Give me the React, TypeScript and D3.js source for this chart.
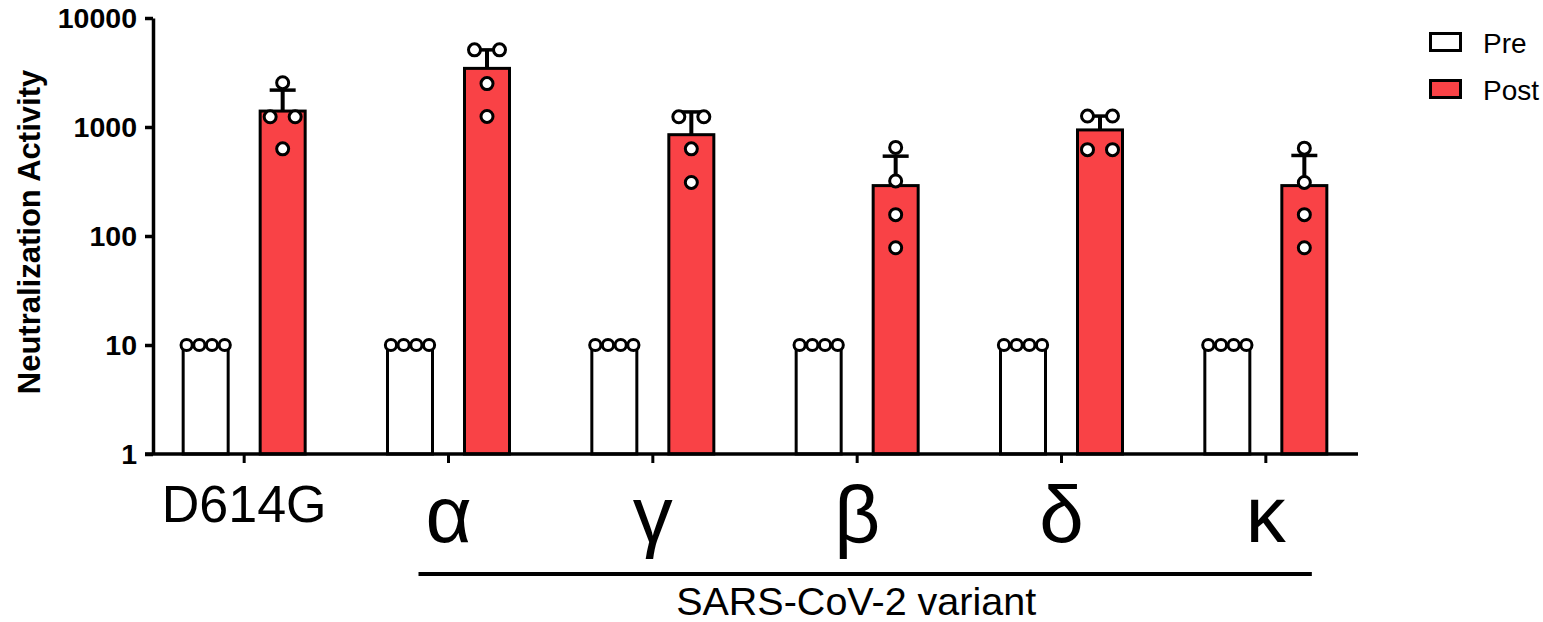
import * as d3 from 'd3';
import { useEffect, useRef } from 'react';

const categories = ['D614G', 'α', 'γ', 'β', 'δ', 'κ'];
const series = ['Pre', 'Post'];
const preMean = [10, 10, 10, 10, 10, 10];
const preSd = [0, 0, 0, 0, 0, 0];
const prePoints = [
  [10, 10, 10, 10],
  [10, 10, 10, 10],
  [10, 10, 10, 10],
  [10, 10, 10, 10],
  [10, 10, 10, 10],
  [10, 10, 10, 10],
];
const postMean = [1400, 3450, 850, 290, 940, 290];
const postSd = [780, 1650, 525, 250, 320, 258];
const postPoints = [
  [2550, 1240, 1240, 630],
  [5100, 5100, 2500, 1250],
  [1240, 1240, 630, 310],
  [650, 320, 157, 78],
  [1260, 1260, 620, 620],
  [640, 310, 157, 78],
];
const yTicks = [1, 10, 100, 1000, 10000];
const yTitle = 'Neutralization Activity';
const xTitle = 'SARS-CoV-2 variant';

const font = "'Liberation Sans', Arial, Helvetica, sans-serif";
const fills: Record<string, string> = { Pre: '#ffffff', Post: '#f94246' };

const W = 1543;
const H = 622;
const axisX = 153;
const baseY = 454;
const topY = 18;

// spread replicates that share a value side by side, like a column scatter
const spread = (vals: number[], gap: number) => {
  const counts = d3.rollup(vals, (v) => v.length, (d) => d);
  const seen = new Map<number, number>();
  return vals.map((v) => {
    const n = counts.get(v)!;
    const k = seen.get(v) ?? 0;
    seen.set(v, k + 1);
    return { v, dx: (k - (n - 1) / 2) * gap };
  });
};

export default function App() {
  const ref = useRef<SVGSVGElement>(null);

  useEffect(() => {
    const svg = d3.select(ref.current);
    svg.selectAll('*').remove();

    const rows = categories.flatMap((cat, i) => [
      { cat, s: 'Pre', mean: preMean[i], sd: preSd[i], pts: prePoints[i] },
      { cat, s: 'Post', mean: postMean[i], sd: postSd[i], pts: postPoints[i] },
    ]);

    const x = d3.scaleBand().domain(categories).range([142, 1368]);
    const inner = d3
      .scaleBand()
      .domain(series)
      .range([x.bandwidth() / 2 - 61, x.bandwidth() / 2 + 61])
      .paddingInner(32 / 77);
    const y = d3.scaleLog().domain([1, 10000]).range([baseY, topY]);
    const bw = inner.bandwidth();

    const g = svg.append('g');

    // bars
    g.selectAll('.bar')
      .data(rows)
      .enter()
      .append('rect')
      .attr('x', (d) => x(d.cat)! + inner(d.s)!)
      .attr('y', (d) => y(d.mean))
      .attr('width', bw)
      .attr('height', (d) => y(1) - y(d.mean))
      .attr('fill', (d) => fills[d.s])
      .attr('stroke', '#000')
      .attr('stroke-width', 3);

    // upper error bars
    const err = g
      .selectAll('.err')
      .data(rows.filter((d) => d.sd > 0))
      .enter()
      .append('g');
    err
      .append('line')
      .attr('x1', (d) => x(d.cat)! + inner(d.s)! + bw / 2)
      .attr('x2', (d) => x(d.cat)! + inner(d.s)! + bw / 2)
      .attr('y1', (d) => y(d.mean))
      .attr('y2', (d) => y(d.mean + d.sd))
      .attr('stroke', '#000')
      .attr('stroke-width', 4);
    err
      .append('line')
      .attr('x1', (d) => x(d.cat)! + inner(d.s)! + bw / 2 - 13)
      .attr('x2', (d) => x(d.cat)! + inner(d.s)! + bw / 2 + 13)
      .attr('y1', (d) => y(d.mean + d.sd))
      .attr('y2', (d) => y(d.mean + d.sd))
      .attr('stroke', '#000')
      .attr('stroke-width', 3.5);

    // replicate points
    rows.forEach((d) => {
      const cx = x(d.cat)! + inner(d.s)! + bw / 2;
      const gap = d.s === 'Pre' ? 12.7 : 25;
      g.selectAll(null)
        .data(spread(d.pts, gap))
        .enter()
        .append('circle')
        .attr('cx', (p) => cx + p.dx)
        .attr('cy', (p) => y(p.v))
        .attr('r', d.s === 'Pre' ? 5.6 : 6)
        .attr('fill', '#fff')
        .attr('stroke', '#000')
        .attr('stroke-width', 3);
    });

    // y axis
    const ya = svg
      .append('g')
      .attr('transform', `translate(${axisX},0)`)
      .call(
        d3
          .axisLeft(y)
          .tickValues(yTicks)
          .tickFormat(d3.format('d'))
          .tickSize(8)
          .tickSizeOuter(0)
          .tickPadding(8)
      );
    ya.select('.domain').attr('stroke-width', 3.5);
    ya.selectAll('.tick line').attr('stroke-width', 3.5);
    ya.selectAll('.tick text')
      .attr('font-family', font)
      .attr('font-weight', 'bold')
      .attr('font-size', 28.5)
      .attr('fill', '#000');

    // x axis
    svg
      .append('line')
      .attr('x1', 145)
      .attr('x2', 1358)
      .attr('y1', baseY)
      .attr('y2', baseY)
      .attr('stroke', '#000')
      .attr('stroke-width', 3.5);
    const xt = svg
      .selectAll('.xt')
      .data(categories)
      .enter()
      .append('g')
      .attr('transform', (d) => `translate(${x(d)! + x.bandwidth() / 2},${baseY})`);
    xt.append('line').attr('y1', 0).attr('y2', 9).attr('stroke', '#000').attr('stroke-width', 3);
    xt.append('text')
      .attr('text-anchor', 'middle')
      .attr('font-family', font)
      .attr('font-size', (d) => (/[\u0370-\u03ff]/.test(d) ? 80 : 52))
      .attr('y', (d) => (/[\u0370-\u03ff]/.test(d) ? 88 : 68))
      .text((d) => d);

    // bracket under the variants
    const variants = categories.slice(1);
    const bx0 = x(variants[0])! + x.bandwidth() / 2 - 30;
    const bx1 = x(variants[variants.length - 1])! + x.bandwidth() / 2 + 46;
    svg
      .append('line')
      .attr('x1', bx0)
      .attr('x2', bx1)
      .attr('y1', 574)
      .attr('y2', 574)
      .attr('stroke', '#000')
      .attr('stroke-width', 4);
    svg
      .append('text')
      .attr('x', (bx0 + bx1) / 2 - 9)
      .attr('y', 615)
      .attr('text-anchor', 'middle')
      .attr('font-family', font)
      .attr('font-size', 39.5)
      .text(xTitle);

    // y title
    svg
      .append('text')
      .attr('transform', `translate(39.5,${(topY + baseY) / 2 - 4}) rotate(-90)`)
      .attr('text-anchor', 'middle')
      .attr('font-family', font)
      .attr('font-weight', 'bold')
      .attr('font-size', 31)
      .text(yTitle);

    // legend
    const leg = svg
      .selectAll('.leg')
      .data(series)
      .enter()
      .append('g')
      .attr('transform', (_d, i) => `translate(1429,${32 + i * 47})`);
    leg
      .append('rect')
      .attr('x', 1.5)
      .attr('y', 1.5)
      .attr('width', 30)
      .attr('height', 17)
      .attr('fill', (d) => fills[d])
      .attr('stroke', '#000')
      .attr('stroke-width', 3);
    leg
      .append('text')
      .attr('x', 54)
      .attr('y', 21)
      .attr('font-family', font)
      .attr('font-size', 28)
      .text((d) => d);
  }, []);

  return (
    <svg
      ref={ref}
      width={W}
      height={H}
      style={{ position: 'absolute', left: 0, top: 0, background: '#fff' }}
    />
  );
}
